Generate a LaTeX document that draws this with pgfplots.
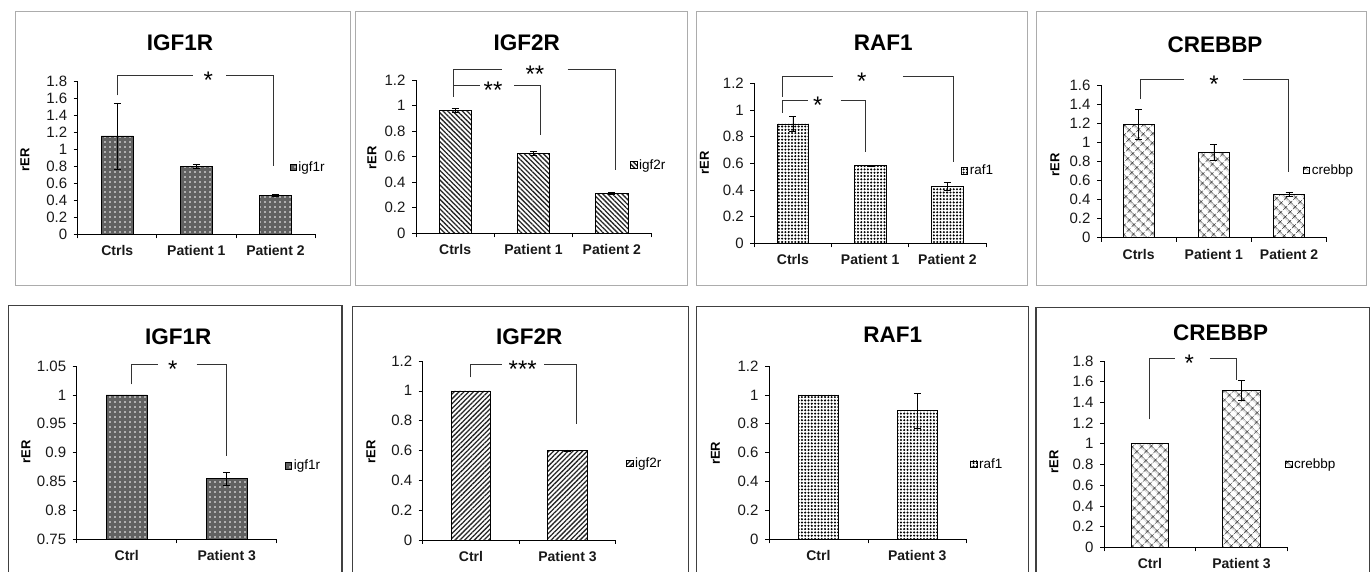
\documentclass[border=0pt]{standalone}
\usepackage{fontspec}
\setmainfont{Liberation Sans}
\usepackage{pgfplots}
\pgfplotsset{compat=1.18}
\usetikzlibrary{patterns,patterns.meta}

\pgfplotsset{
  panel/.style={
    scale only axis, anchor=south west, clip mode=individual,
    axis lines=left, axis line style={-, black, line width=0.6pt},
    ymin=0,
    tick align=outside,
    major tick length=4pt, minor tick length=4pt,
    tick style={black, line width=0.6pt},
    every major x tick/.append style={draw=none},
    /pgf/number format/assume math mode=true,
    yticklabel={\pgfmathprintnumber{\tick}},
    yticklabel style={font=\fontsize{15}{16}\selectfont, text=black!90, xshift=-3pt},
    xticklabel style={font=\bfseries\fontsize{14}{15}\selectfont, text=black!90, yshift=-4pt},
    legend style={draw=none, fill=none, anchor=west, inner sep=0pt, font=\fontsize{13.5}{14}\selectfont},
  },
  three/.style={panel, xmin=-0.5, xmax=2.5, xtick={0,1,2}, minor xtick={-0.5,0.5,1.5,2.5}, xticklabels={Ctrls,Patient 1,Patient 2}},
  two/.style={panel, xmin=-0.5, xmax=1.5, xtick={0,1}, minor xtick={-0.5,0.5,1.5}, xticklabels={Ctrl,Patient 3}},
  bars/.style={ybar, bar width=0.41, draw=black, line width=0.6pt,
    legend image code/.code={\draw[##1, line width=0.5pt] (0pt,-3.2pt) rectangle (6.4pt,3.2pt);},
    /pgfplots/error bars/y dir=both, /pgfplots/error bars/y explicit,
    /pgfplots/error bars/error bar style={black, line width=0.6pt},
    /pgfplots/error bars/error mark options={rotate=90, black, line width=0.6pt, mark size=3.5pt}},
  pone/.style={fill=black!62, postaction={pattern={Dots[distance=5pt, radius=0.9pt]}, pattern color=white}},
  ptwoA/.style={pattern={Lines[angle=-45, distance=3.4pt, line width=1.3pt]}, pattern color=black!85},
  ptwoB/.style={pattern={Lines[angle=45, distance=3.4pt, line width=1.3pt]}, pattern color=black!85},
  praf/.style={pattern={Dots[distance=3.3pt, radius=1.15pt]}, pattern color=black},
  pcreb/.style={pattern={Hatch[angle=45, distance=6.5pt, line width=0.7pt]}, pattern color=black},
}
\tikzset{
  brk/.style={black!80, line width=0.6pt},
  star/.style={font=\fontsize{24}{24}\selectfont, inner sep=0pt, yshift=-5pt},
  ttl/.style={font=\bfseries\fontsize{22.5}{24}\selectfont},
  ylab/.style={rotate=90, font=\bfseries\fontsize{13}{14}\selectfont},
}

\begin{document}
\begin{tikzpicture}
\fill[white] (0pt,0pt) rectangle (1370pt,572pt);
\path[use as bounding box] (0pt,0pt) rectangle (1370pt,572pt);

% frames
\begin{scope}[gray!65, line width=1pt]
\draw (15pt,286pt) rectangle (350.7pt,560pt);
\draw (355.7pt,286pt) rectangle (687.7pt,560pt);
\draw (696pt,286pt) rectangle (1027.7pt,560pt);
\draw (1036pt,286pt) rectangle (1366.7pt,560pt);
\end{scope}
\begin{scope}[black!75, line width=1.3pt]
\draw (8.3pt,-5pt) rectangle (342pt,266.3pt);
\draw (352.3pt,-5pt) rectangle (688.3pt,265.5pt);
\draw (696.7pt,-5pt) rectangle (1028.3pt,265.3pt);
\draw (1036pt,-5pt) rectangle (1369.3pt,264.7pt);
\end{scope}

% ---------- Panel 1: IGF1R ----------
\node[ttl] at (180pt,529pt) {IGF1R};
\node[ylab] at (25pt,412pt) {rER};
\begin{axis}[three, at={(77.7pt,337.7pt)}, width=237.3pt, height=152.6pt, ymax=1.8,
  ytick={0,0.2,0.4,0.6,0.8,1,1.2,1.4,1.6,1.8},
  legend style={at={(0.892,0.441)}}]
\addplot[bars, pone] table[x=x, y=y, y error=e] {
x y e
0 1.16 0.39
1 0.80 0.02
2 0.46 0.01
};
\addlegendentry{igf1r}
\draw[brk] (axis cs:0,1.64) |- (axis cs:0.96,1.88);
\draw[brk] (axis cs:1.375,1.88) -| (axis cs:1.97,0.80);
\node[star] at (axis cs:1.15,1.88) {*};
\end{axis}

% ---------- Panel 2: IGF2R ----------
\node[ttl] at (526.7pt,529pt) {IGF2R};
\node[ylab] at (372pt,414pt) {rER};
\begin{axis}[three, at={(416pt,338.7pt)}, width=235pt, height=153.3pt, ymax=1.2,
  ytick={0,0.2,0.4,0.6,0.8,1,1.2},
  legend style={at={(0.911,0.446)}}]
\addplot[bars, ptwoA] table[x=x, y=y, y error=e] {
x y e
0 0.965 0.015
1 0.626 0.015
2 0.313 0.005
};
\addlegendentry{igf2r}
\draw[brk] (axis cs:-0.03,1.142) |- (axis cs:0.594,1.283);
\draw[brk] (axis cs:1.437,1.283) -| (axis cs:2.05,0.495);
\node[star] at (axis cs:1.019,1.283) {**};
\draw[brk] (axis cs:-0.03,1.069) |- (axis cs:0.317,1.160);
\draw[brk] (axis cs:0.755,1.160) -| (axis cs:1.092,0.769);
\node[star] at (axis cs:0.483,1.160) {**};
\end{axis}

% ---------- Panel 3: RAF1 ----------
\node[ttl] at (883.3pt,529pt) {RAF1};
\node[ylab] at (704.5pt,409pt) {rER};
\begin{axis}[three, at={(754.3pt,328.7pt)}, width=231.7pt, height=160pt, ymax=1.2,
  ytick={0,0.2,0.4,0.6,0.8,1,1.2},
  legend style={at={(0.891,0.454)}}]
\addplot[bars, praf] table[x=x, y=y, y error=e] {
x y e
0 0.895 0.055
1 0.582 0.005
2 0.425 0.03
};
\addlegendentry{raf1}
\draw[brk] (axis cs:-0.132,1.10) |- (axis cs:0.523,1.255);
\draw[brk] (axis cs:1.422,1.255) -| (axis cs:2.077,0.612);
\node[star] at (axis cs:0.891,1.255) {*};
\draw[brk] (axis cs:-0.132,0.98) |- (axis cs:0.199,1.075);
\draw[brk] (axis cs:0.619,1.075) -| (axis cs:0.934,0.687);
\node[star] at (axis cs:0.321,1.075) {*};
\end{axis}

% ---------- Panel 4: CREBBP ----------
\node[ttl] at (1215pt,527pt) {CREBBP};
\node[ylab] at (1055pt,407pt) {rER};
\begin{axis}[three, at={(1101pt,334.3pt)}, width=225.7pt, height=152.7pt, ymax=1.6,
  ytick={0,0.2,0.4,0.6,0.8,1,1.2,1.4,1.6},
  legend style={at={(0.894,0.443)}}]
\addplot[bars, pcreb] table[x=x, y=y, y error=e] {
x y e
0 1.19 0.155
1 0.895 0.08
2 0.455 0.025
};
\addlegendentry{crebbp}
\draw[brk] (axis cs:0.018,1.454) |- (axis cs:0.603,1.663);
\draw[brk] (axis cs:1.392,1.663) -| (axis cs:1.99,0.692);
\node[star] at (axis cs:1.002,1.663) {*};
\end{axis}

% ---------- Panel 5: IGF1R ----------
\node[ttl] at (178.3pt,235.3pt) {IGF1R};
\node[ylab] at (26pt,120pt) {rER};
\begin{axis}[two, at={(76.7pt,32.7pt)}, width=200pt, height=173.3pt, ymin=0.75, ymax=1.05,
  ytick={0.75,0.8,0.85,0.9,0.95,1,1.05},
  legend style={at={(1.04,0.425)}}]
\addplot[bars, pone] table[x=x, y=y, y error=e] {
x y e
0 1.0 0
1 0.855 0.011
};
\addlegendentry{igf1r}
\draw[brk] (axis cs:0.043,1.018) |- (axis cs:0.316,1.053);
\draw[brk] (axis cs:0.70,1.053) -| (axis cs:1.0,0.895);
\node[star] at (axis cs:0.46,1.053) {*};
\end{axis}

% ---------- Panel 6: IGF2R ----------
\node[ttl] at (529.3pt,235.3pt) {IGF2R};
\node[ylab] at (371pt,120.3pt) {rER};
\begin{axis}[two, at={(422.7pt,32pt)}, width=193pt, height=179pt, ymax=1.2,
  ytick={0,0.2,0.4,0.6,0.8,1,1.2},
  legend style={at={(1.053,0.428)}}]
\addplot[bars, ptwoB] table[x=x, y=y, y error=e] {
x y e
0 1.0 0
1 0.60 0.004
};
\addlegendentry{igf2r}
\draw[brk] (axis cs:-0.003,1.09) |- (axis cs:0.319,1.178);
\draw[brk] (axis cs:0.757,1.178) -| (axis cs:1.089,0.776);
\node[star] at (axis cs:0.536,1.178) {***};
\end{axis}

% ---------- Panel 7: RAF1 ----------
\node[ttl] at (892.7pt,237pt) {RAF1};
\node[ylab] at (715.5pt,118.7pt) {rER};
\begin{axis}[two, at={(769pt,32.7pt)}, width=197.7pt, height=173.3pt, ymax=1.2,
  ytick={0,0.2,0.4,0.6,0.8,1,1.2},
  legend style={at={(1.017,0.434)}}]
\addplot[bars, praf] table[x=x, y=y, y error=e] {
x y e
0 1.0 0
1 0.89 0.12
};
\addlegendentry{raf1}
\end{axis}

% ---------- Panel 8: CREBBP ----------
\node[ttl] at (1220.7pt,239.3pt) {CREBBP};
\node[ylab] at (1054pt,110.3pt) {rER};
\begin{axis}[two, at={(1104pt,24.7pt)}, width=183.3pt, height=186.3pt, ymax=1.8,
  ytick={0,0.2,0.4,0.6,0.8,1,1.2,1.4,1.6,1.8},
  legend style={at={(0.987,0.447)}}]
\addplot[bars, pcreb] table[x=x, y=y, y error=e] {
x y e
0 1.0 0
1 1.515 0.095
};
\addlegendentry{crebbp}
\draw[brk] (axis cs:-0.009,1.237) |- (axis cs:0.275,1.826);
\draw[brk] (axis cs:0.656,1.826) -| (axis cs:0.948,1.616);
\node[star] at (axis cs:0.43,1.826) {*};
\end{axis}
\end{tikzpicture}
\end{document}
